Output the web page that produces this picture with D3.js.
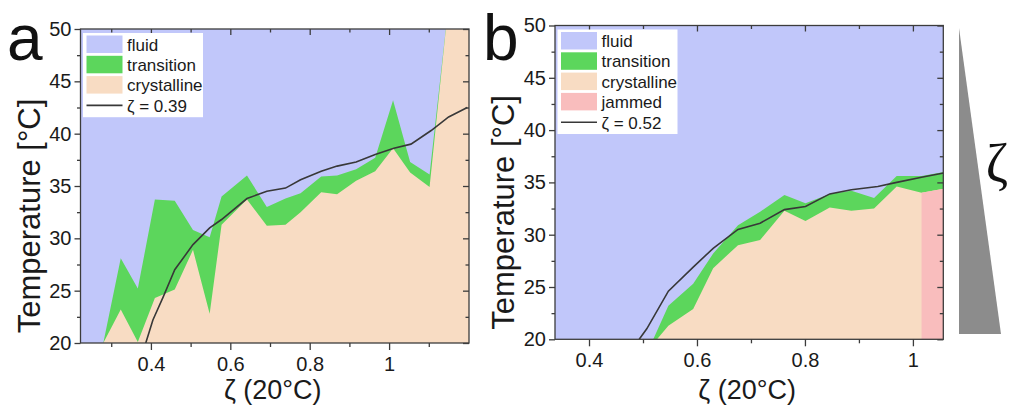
<!DOCTYPE html>
<html>
<head>
<meta charset="utf-8">
<script src="https://cdn.jsdelivr.net/npm/d3@7"></script>
<style>
  body { margin: 0; background: #fff; }
  svg { display: block; font-family: "Liberation Sans", Arial, sans-serif; }
</style>
</head>
<body>
<svg id="chart" width="1009" height="407"></svg>
<script>
// ---- panel a data ----
var zetaA = [0.280, 0.324, 0.367, 0.410, 0.460, 0.506, 0.548, 0.578, 0.642, 0.692, 0.739, 0.777, 0.829, 0.869, 0.917, 0.965, 1.010, 1.053, 1.102, 1.143, 1.202];
var transTopA = [20, 28.1, 25.2, 33.7, 33.6, 30.8, 30.1, 34.0, 36.0, 33.0, 33.8, 34.3, 35.9, 36.0, 36.6, 37.7, 43.2, 37.3, 36.1, 50, 50];
var crystTopA = [20, 23.2, 20.1, 24.3, 25.1, 28.9, 22.8, 31.3, 33.7, 31.2, 31.3, 32.5, 34.4, 34.2, 35.5, 36.4, 38.6, 36.3, 34.9, 50, 50];
var lineZetaA = [0.387, 0.405, 0.431, 0.460, 0.506, 0.548, 0.578, 0.642, 0.692, 0.739, 0.777, 0.829, 0.869, 0.917, 0.965, 1.012, 1.055, 1.106, 1.150, 1.197];
var lineTA = [20, 22.2, 24.4, 27.0, 29.4, 31.0, 31.8, 33.8, 34.5, 34.8, 35.6, 36.4, 36.9, 37.3, 38.0, 38.6, 39.0, 40.3, 41.6, 42.5];

// ---- panel b data ----
var transZetaB = [0.519, 0.547, 0.593, 0.630, 0.676, 0.717, 0.762, 0.801, 0.846, 0.886, 0.928, 0.970, 1.016, 1.057];
var transTopB = [20, 23.2, 25.3, 28.2, 30.9, 32.2, 33.8, 33.0, 33.9, 34.2, 33.5, 35.6, 35.6, 36.0];
var crystZetaB = [0.526, 0.547, 0.593, 0.630, 0.676, 0.717, 0.762, 0.801, 0.846, 0.886, 0.928, 0.970, 1.016, 1.057];
var crystTopB = [20, 21.3, 22.9, 26.8, 29.0, 29.5, 32.3, 31.3, 32.6, 32.3, 32.5, 34.6, 34.0, 34.4];
var jamZetaB = [1.016, 1.057];
var jamTopB = [34.0, 34.4];
var lineZetaB = [0.493, 0.507, 0.547, 0.593, 0.630, 0.676, 0.717, 0.762, 0.801, 0.846, 0.886, 0.935, 0.970, 1.016, 1.057];
var lineTB = [20, 21.0, 24.6, 26.9, 28.7, 30.5, 31.1, 32.4, 32.7, 33.9, 34.3, 34.6, 35.0, 35.5, 35.9];

// ---- ticks / labels ----
var yMajor = [20, 25, 30, 35, 40, 45, 50];
var yMinor = [22.5, 27.5, 32.5, 37.5, 42.5, 47.5];
var xMajor = [0.4, 0.6, 0.8, 1.0];
var xMinorA = [0.3, 0.5, 0.7, 0.9, 1.1];
var xMinorB = [0.5, 0.7, 0.9];
var legendA = ["fluid", "transition", "crystalline"];
var legendB = ["fluid", "transition", "crystalline", "jammed"];
var lineLabelA = "\u03b6 = 0.39";
var lineLabelB = "\u03b6 = 0.52";

var colors = {
  fluid: "#c1c7fa",
  transition: "#5cd65c",
  crystalline: "#f8dcc3",
  jammed: "#f9bdbd",
  line: "#383838",
  axis: "#3c3c3c"
};

var svg = d3.select("#chart");
svg.append("rect").attr("width", 1009).attr("height", 407).attr("fill", "#fff");

function styleAxis(sel, size) {
  sel.select(".domain").remove();
  sel.selectAll("line").attr("stroke", colors.axis).attr("stroke-width", 1.3);
  sel.selectAll("text").attr("font-size", size).attr("fill", "#1a1a1a")
    .attr("font-family", "'Liberation Sans', Arial, sans-serif");
}

function drawPanel(p) {
  var x = d3.scaleLinear().domain(p.xDomain).range([p.left, p.right]);
  var y = d3.scaleLinear().domain([20, 50]).range([p.bottom, p.top]);
  var g = svg.append("g");

  svg.append("clipPath").attr("id", "clip-" + p.name).append("rect")
    .attr("x", p.left).attr("y", p.top)
    .attr("width", p.right - p.left).attr("height", p.bottom - p.top);

  var plot = g.append("g").attr("clip-path", "url(#clip-" + p.name + ")");
  plot.append("rect")
    .attr("x", p.left).attr("y", p.top)
    .attr("width", p.right - p.left).attr("height", p.bottom - p.top)
    .attr("fill", colors.fluid);

  var area = d3.area().x(function (d) { return x(d[0]); }).y0(y(20)).y1(function (d) { return y(d[1]); });
  var line = d3.line().x(function (d) { return x(d[0]); }).y(function (d) { return y(d[1]); });

  plot.append("path").datum(d3.zip(p.transZeta, p.transTop)).attr("d", area).attr("fill", colors.transition);
  plot.append("path").datum(d3.zip(p.crystZeta, p.crystTop)).attr("d", area).attr("fill", colors.crystalline);
  if (p.jamZeta) {
    plot.append("path").datum(d3.zip(p.jamZeta, p.jamTop)).attr("d", area).attr("fill", colors.jammed);
  }
  plot.append("path").datum(d3.zip(p.lineZeta, p.lineT)).attr("d", line)
    .attr("fill", "none").attr("stroke", colors.line).attr("stroke-width", 1.6);

  // axes
  var fmt = d3.format("~g");
  g.append("g").attr("transform", "translate(0," + p.bottom + ")")
    .call(d3.axisBottom(x).tickValues(xMajor).tickSize(7).tickPadding(7).tickFormat(fmt))
    .call(styleAxis, 20);
  g.append("g").attr("transform", "translate(0," + p.bottom + ")")
    .call(d3.axisBottom(x).tickValues(p.xMinor).tickSize(4).tickFormat(""))
    .call(styleAxis, 20);
  g.append("g").attr("transform", "translate(0," + p.top + ")")
    .call(d3.axisTop(x).tickValues(xMajor).tickSize(-6).tickFormat(""))
    .call(styleAxis, 20);
  g.append("g").attr("transform", "translate(0," + p.top + ")")
    .call(d3.axisTop(x).tickValues(p.xMinor).tickSize(-3.5).tickFormat(""))
    .call(styleAxis, 20);
  g.append("g").attr("transform", "translate(" + p.left + ",0)")
    .call(d3.axisLeft(y).tickValues(yMajor).tickSize(6).tickPadding(3))
    .call(styleAxis, 20);
  g.append("g").attr("transform", "translate(" + p.left + ",0)")
    .call(d3.axisLeft(y).tickValues(yMinor).tickSize(3.5).tickFormat(""))
    .call(styleAxis, 20);
  g.append("g").attr("transform", "translate(" + p.right + ",0)")
    .call(d3.axisRight(y).tickValues(yMajor).tickSize(-6).tickFormat(""))
    .call(styleAxis, 20);
  g.append("g").attr("transform", "translate(" + p.right + ",0)")
    .call(d3.axisRight(y).tickValues(yMinor).tickSize(-3.5).tickFormat(""))
    .call(styleAxis, 20);

  g.append("rect")
    .attr("x", p.left).attr("y", p.top)
    .attr("width", p.right - p.left).attr("height", p.bottom - p.top)
    .attr("fill", "none").attr("stroke", colors.axis).attr("stroke-width", 1.3);

  // legend
  var leg = g.append("g").attr("transform", "translate(" + (p.left + 2.5) + "," + (p.top + 4) + ")");
  var rowH = 20.3;
  var nRows = p.legend.length + 1;
  leg.append("rect").attr("width", 120).attr("height", nRows * rowH + 3)
    .attr("fill", "#fff");
  p.legend.forEach(function (name, i) {
    leg.append("rect").attr("x", 3.5).attr("y", 2.5 + i * rowH)
      .attr("width", 36).attr("height", 17.5).attr("fill", colors[name]);
    leg.append("text").attr("x", 44).attr("y", 2.5 + i * rowH + 15)
      .attr("font-size", 17).attr("fill", "#1a1a1a").text(name);
  });
  var ly = 2.5 + p.legend.length * rowH + 9;
  leg.append("line").attr("x1", 3.5).attr("x2", 39.5).attr("y1", ly).attr("y2", ly)
    .attr("stroke", colors.line).attr("stroke-width", 1.6);
  leg.append("text").attr("x", 44).attr("y", ly + 6.5)
    .attr("font-size", 17).attr("fill", "#1a1a1a").text(p.lineLabel);

  // titles
  g.append("text")
    .attr("transform", "translate(" + p.yTitleX + "," + ((p.top + p.bottom) / 2 + 30) + ") rotate(-90)")
    .attr("text-anchor", "middle").attr("font-size", 31).attr("fill", "#1a1a1a")
    .text("Temperature [\u00b0C]");
  g.append("text")
    .attr("x", (p.left + p.right) / 2 - 2).attr("y", 399)
    .attr("text-anchor", "middle").attr("font-size", 27).attr("fill", "#1a1a1a")
    .text("\u03b6 (20\u00b0C)");
  g.append("text")
    .attr("x", p.letterX).attr("y", 60)
    .attr("font-size", 64).attr("fill", "#111")
    .text(p.name);
}

drawPanel({
  name: "a", left: 80.5, right: 469, top: 29, bottom: 343,
  xDomain: [0.2226, 1.2013], xMinor: xMinorA,
  transZeta: zetaA, transTop: transTopA, crystZeta: zetaA, crystTop: crystTopA,
  lineZeta: lineZetaA, lineT: lineTA,
  legend: legendA, lineLabel: lineLabelA,
  yTitleX: 40, letterX: 7
});

drawPanel({
  name: "b", left: 555, right: 943.3, top: 25.5, bottom: 339.3,
  xDomain: [0.337, 1.0563], xMinor: xMinorB,
  transZeta: transZetaB, transTop: transTopB, crystZeta: crystZetaB, crystTop: crystTopB,
  jamZeta: jamZetaB, jamTop: jamTopB,
  lineZeta: lineZetaB, lineT: lineTB,
  legend: legendB, lineLabel: lineLabelB,
  yTitleX: 514, letterX: 483
});

// zeta wedge on the right
svg.append("path")
  .attr("d", d3.line()([[959, 28], [1001, 334], [959, 334]]) + "Z")
  .attr("fill", "#8c8c8c");
svg.append("text")
  .attr("x", 997).attr("y", 182).attr("text-anchor", "middle")
  .attr("font-family", "'Liberation Serif', 'Times New Roman', serif")
  .attr("font-size", 54).attr("fill", "#111")
  .text("\u03b6");
</script>
</body>
</html>
